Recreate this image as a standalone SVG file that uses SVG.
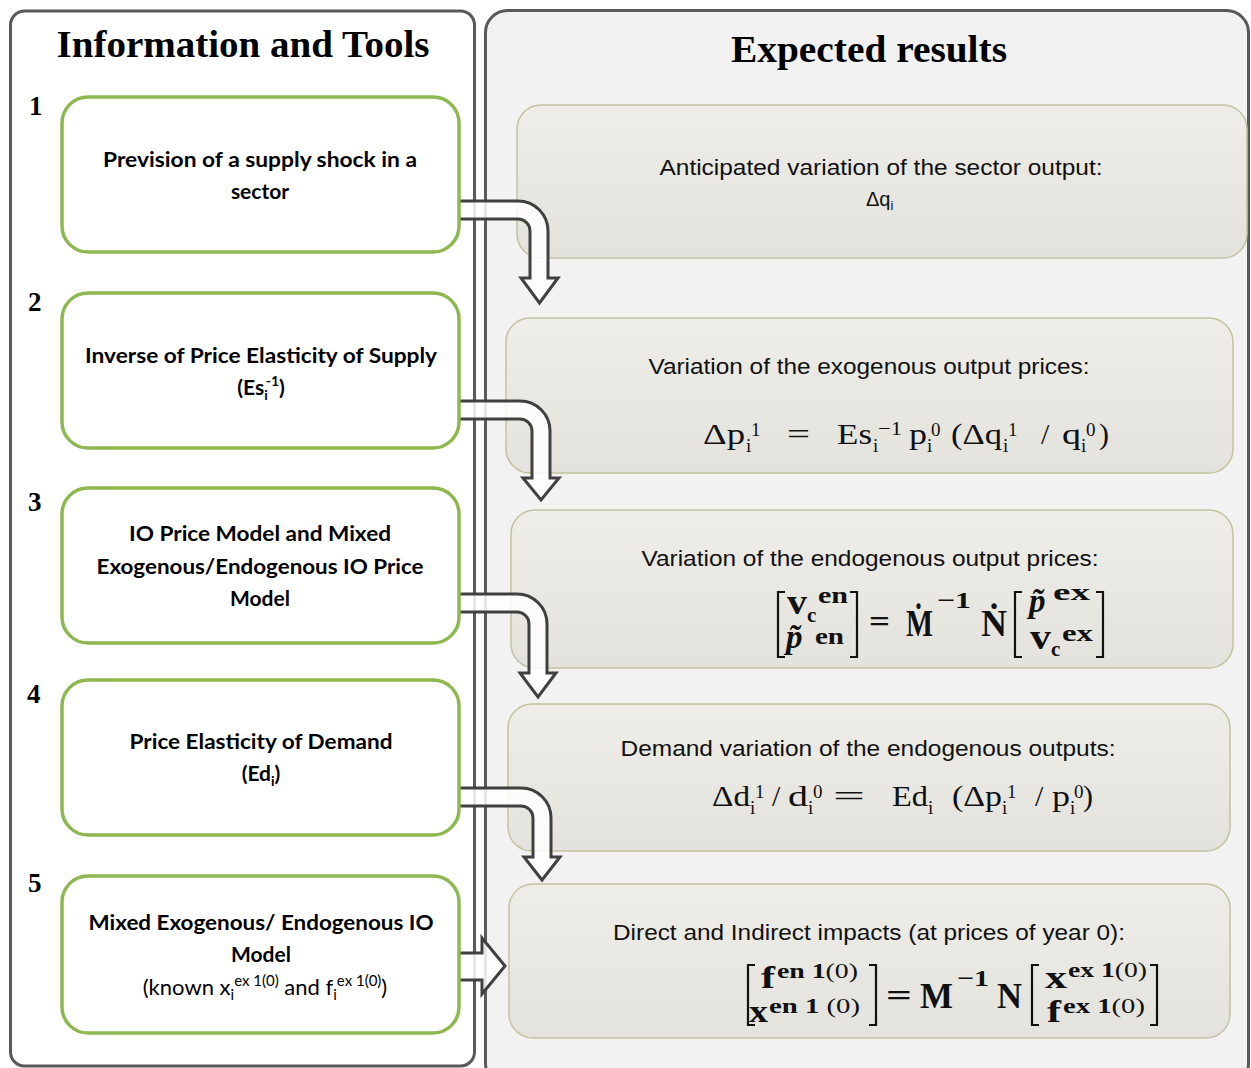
<svg xmlns="http://www.w3.org/2000/svg" width="1251" height="1068" viewBox="0 0 1251 1068">
<defs>
<linearGradient id="gr" x1="0" y1="0" x2="0" y2="1">
<stop offset="0" stop-color="#eeede8"/>
<stop offset="1" stop-color="#e3e2dc"/>
</linearGradient>
<style>
.panel{stroke:#595959;stroke-width:3}
.gbox{fill:#fff;stroke:#8db84f;stroke-width:3.5}
.rbox{fill:url(#gr);stroke:#c4c2a0;stroke-width:1.5}
.arrow{fill:#fff;fill-opacity:0.85;stroke:#404040;stroke-width:3}
.title{font-family:"Liberation Serif",serif;font-weight:bold;font-size:37px;fill:#000;text-anchor:middle}
.num{font-family:"Liberation Serif",serif;font-weight:bold;font-size:27px;fill:#000}
.lt{font-family:Lato,"Liberation Sans",sans-serif;font-weight:bold;font-size:21px;text-anchor:middle;fill:#000}
.lr{font-family:Lato,"Liberation Sans",sans-serif;font-size:22px;text-anchor:middle;fill:#000}
.rt{font-family:"Liberation Sans",Arial,sans-serif;font-size:22px;text-anchor:middle;fill:#111}
.fm{font-family:"Liberation Serif","DejaVu Serif",serif;font-size:30px;fill:#111}
.fs{font-family:"Liberation Serif","DejaVu Serif",serif;font-size:19px;fill:#111}
.fb{font-family:"Liberation Serif","DejaVu Serif",serif;font-weight:bold;fill:#111}
.br{fill:none;stroke:#111;stroke-width:2.2}
</style>
</defs>

<g id="panels">
<rect class="panel" x="10.5" y="11" width="464" height="1055" rx="14" fill="#ffffff"/>
<rect class="panel" x="485.5" y="10.5" width="763" height="1075" rx="22" fill="#f2f2f2"/>
<text class="title" x="243" y="57" textLength="373" lengthAdjust="spacingAndGlyphs">Information and Tools</text>
<text class="title" x="869" y="62" textLength="276" lengthAdjust="spacingAndGlyphs">Expected results</text>
<text class="num" x="29" y="115">1</text>
<text class="num" x="28" y="311">2</text>
<text class="num" x="28" y="511">3</text>
<text class="num" x="27" y="703">4</text>
<text class="num" x="28" y="892">5</text>
</g>

<g id="result-1">
<rect class="rbox" x="517" y="105" width="730" height="153" rx="24"/>
<text class="rt" x="881" y="175" textLength="443" lengthAdjust="spacingAndGlyphs">Anticipated variation of the sector output:</text>
<text class="rt" x="866" y="206" style="text-anchor:start;font-size:20px">Δq<tspan font-size="13" dy="4">i</tspan></text>
</g>

<g id="result-2">
<rect class="rbox" x="506" y="318" width="727" height="155" rx="24"/>
<text class="rt" x="869" y="374" textLength="441" lengthAdjust="spacingAndGlyphs">Variation of the exogenous output prices:</text>
<text class="fm" x="703" y="444" textLength="42" lengthAdjust="spacingAndGlyphs">Δp</text>
<text class="fs" x="746" y="452">i</text>
<text class="fs" x="751" y="436">1</text>
<text class="fm" x="787" y="444" textLength="23" lengthAdjust="spacingAndGlyphs">=</text>
<text class="fm" x="837" y="444" textLength="35" lengthAdjust="spacingAndGlyphs">Es</text>
<text class="fs" x="873" y="452">i</text>
<text class="fs" x="878" y="435" textLength="24" lengthAdjust="spacingAndGlyphs">−1</text>
<text class="fm" x="909" y="444" textLength="18" lengthAdjust="spacingAndGlyphs">p</text>
<text class="fs" x="927" y="452">i</text>
<text class="fs" x="931" y="436">0</text>
<text class="fm" x="951" y="444" textLength="51" lengthAdjust="spacingAndGlyphs">(Δq</text>
<text class="fs" x="1003" y="452">i</text>
<text class="fs" x="1008" y="436">1</text>
<text class="fm" x="1041" y="444">/</text>
<text class="fm" x="1062" y="444" textLength="19" lengthAdjust="spacingAndGlyphs">q</text>
<text class="fs" x="1081" y="452">i</text>
<text class="fs" x="1086" y="436">0</text>
<text class="fm" x="1099" y="444">)</text>
</g>

<g id="result-3">
<rect class="rbox" x="511" y="510" width="722" height="158" rx="24"/>
<text class="rt" x="870" y="566" textLength="457" lengthAdjust="spacingAndGlyphs">Variation of the endogenous output prices:</text>
<path class="br" d="M785,592 H778 V657 H785"/>
<text class="fb" x="787" y="614" font-size="35" textLength="20" lengthAdjust="spacingAndGlyphs">v</text>
<text class="fb" x="807" y="622" font-size="21">c</text>
<text class="fb" x="818" y="603" font-size="23" textLength="30" lengthAdjust="spacingAndGlyphs">en</text>
<text class="fb" x="786" y="648" font-size="33" font-style="italic">p̃</text>
<text class="fb" x="815" y="644" font-size="23" textLength="29" lengthAdjust="spacingAndGlyphs">en</text>
<path class="br" d="M850,592 H857 V657 H850"/>
<text class="fb" x="869" y="632" font-size="32" textLength="21" lengthAdjust="spacingAndGlyphs">=</text>
<text class="fb" x="906" y="636" font-size="38" textLength="27" lengthAdjust="spacingAndGlyphs">Ṁ</text>
<text class="fb" x="937" y="608" font-size="23" textLength="34" lengthAdjust="spacingAndGlyphs">−1</text>
<text class="fb" x="981" y="636" font-size="38" textLength="26" lengthAdjust="spacingAndGlyphs">Ṅ</text>
<path class="br" d="M1022,592 H1015 V657 H1022"/>
<text class="fb" x="1029" y="612" font-size="33" font-style="italic">p̃</text>
<text class="fb" x="1053" y="600" font-size="23" textLength="37" lengthAdjust="spacingAndGlyphs">ex</text>
<text class="fb" x="1030" y="649" font-size="35" textLength="21" lengthAdjust="spacingAndGlyphs">v</text>
<text class="fb" x="1051" y="656" font-size="21">c</text>
<text class="fb" x="1062" y="641" font-size="23" textLength="31" lengthAdjust="spacingAndGlyphs">ex</text>
<path class="br" d="M1096,592 H1103 V657 H1096"/>
</g>

<g id="result-4">
<rect class="rbox" x="508" y="704" width="722" height="147" rx="24"/>
<text class="rt" x="868" y="756" textLength="495" lengthAdjust="spacingAndGlyphs">Demand variation of the endogenous outputs:</text>
<text class="fm" x="712" y="806" textLength="38" lengthAdjust="spacingAndGlyphs">Δd</text>
<text class="fs" x="750" y="814">i</text>
<text class="fs" x="755" y="798">1</text>
<text class="fm" x="772" y="806">/</text>
<text class="fm" x="788" y="806" textLength="20" lengthAdjust="spacingAndGlyphs">d</text>
<text class="fs" x="808" y="814">i</text>
<text class="fs" x="813" y="798">0</text>
<text class="fm" x="833" y="806" textLength="32" lengthAdjust="spacingAndGlyphs">=</text>
<text class="fm" x="892" y="806" textLength="36" lengthAdjust="spacingAndGlyphs">Ed</text>
<text class="fs" x="928" y="814">i</text>
<text class="fm" x="952" y="806" textLength="50" lengthAdjust="spacingAndGlyphs">(Δp</text>
<text class="fs" x="1002" y="814">i</text>
<text class="fs" x="1007" y="798">1</text>
<text class="fm" x="1035" y="806">/</text>
<text class="fm" x="1052" y="806" textLength="18" lengthAdjust="spacingAndGlyphs">p</text>
<text class="fs" x="1070" y="814">i</text>
<text class="fs" x="1074" y="798">0</text>
<text class="fm" x="1083" y="806">)</text>
</g>

<g id="result-5">
<rect class="rbox" x="509" y="884" width="721" height="154" rx="24"/>
<text class="rt" x="869" y="940" textLength="512" lengthAdjust="spacingAndGlyphs">Direct and Indirect impacts (at prices of year 0):</text>
<path class="br" d="M755,965 H748 V1025 H755"/>
<text class="fb" x="761" y="988" font-size="32" textLength="14" lengthAdjust="spacingAndGlyphs">f</text>
<text class="fb" x="777" y="978" font-size="22" textLength="81" lengthAdjust="spacingAndGlyphs">en 1<tspan font-weight="normal">(0)</tspan></text>
<text class="fb" x="749" y="1022" font-size="32" textLength="19" lengthAdjust="spacingAndGlyphs">x</text>
<text class="fb" x="769" y="1013" font-size="22" textLength="91" lengthAdjust="spacingAndGlyphs">en 1 <tspan font-weight="normal">(0)</tspan></text>
<path class="br" d="M869,965 H876 V1025 H869"/>
<text class="fb" x="886" y="1006" font-size="32" textLength="26" lengthAdjust="spacingAndGlyphs">=</text>
<text class="fb" x="920" y="1008" font-size="36" textLength="33" lengthAdjust="spacingAndGlyphs">M</text>
<text class="fb" x="957" y="986" font-size="23" textLength="32" lengthAdjust="spacingAndGlyphs">−1</text>
<text class="fb" x="997" y="1008" font-size="36" textLength="25" lengthAdjust="spacingAndGlyphs">N</text>
<path class="br" d="M1039,965 H1032 V1025 H1039"/>
<text class="fb" x="1045" y="988" font-size="32" textLength="22" lengthAdjust="spacingAndGlyphs">x</text>
<text class="fb" x="1068" y="977" font-size="22" textLength="79" lengthAdjust="spacingAndGlyphs">ex 1<tspan font-weight="normal">(0)</tspan></text>
<text class="fb" x="1047" y="1022" font-size="32" textLength="14" lengthAdjust="spacingAndGlyphs">f</text>
<text class="fb" x="1063" y="1013" font-size="22" textLength="82" lengthAdjust="spacingAndGlyphs">ex 1<tspan font-weight="normal">(0)</tspan></text>
<path class="br" d="M1150,965 H1157 V1025 H1150"/>
</g>

<g id="connectors">
<path class="arrow" d="M455,201 H518 A30,30 0 0 1 548,231 V278 H558 L539.5,303 L521,278 H530 V231 A12,12 0 0 0 518,219 H455 Z"/>
<path class="arrow" d="M455,401 H520 A30,30 0 0 1 550,431 V478 H559 L541,500 L523,478 H532 V431 A12,12 0 0 0 520,419 H455 Z"/>
<path class="arrow" d="M455,594 H517 A30,30 0 0 1 547,624 V673 H556 L538,697 L520,673 H529 V624 A12,12 0 0 0 517,612 H455 Z"/>
<path class="arrow" d="M455,788 H521 A30,30 0 0 1 551,818 V857 H560 L542,880 L524,857 H533 V818 A12,12 0 0 0 521,806 H455 Z"/>
<path class="arrow" d="M455,953 H482 V938 L505,966 L482,994 V980 H455 Z"/>
</g>

<g id="tool-1">
<rect class="gbox" x="62" y="97" width="397" height="155" rx="26"/>
<text class="lt" x="260" y="167" textLength="314" lengthAdjust="spacingAndGlyphs">Prevision of a supply shock in a</text>
<text class="lt" x="260" y="199">sector</text>
</g>

<g id="tool-2">
<rect class="gbox" x="62" y="293" width="397" height="155" rx="26"/>
<text class="lt" x="261" y="363" textLength="352" lengthAdjust="spacingAndGlyphs">Inverse of Price Elasticity of Supply</text>
<text class="lt" x="261" y="395">(Es<tspan font-size="14" dy="5">i</tspan><tspan font-size="14" dx="-2" dy="-14">-1</tspan><tspan dy="9">)</tspan></text>
</g>

<g id="tool-3">
<rect class="gbox" x="62" y="488" width="397" height="155" rx="26"/>
<text class="lt" x="260" y="541" textLength="262" lengthAdjust="spacingAndGlyphs">IO Price Model and Mixed</text>
<text class="lt" x="260" y="574" textLength="327" lengthAdjust="spacingAndGlyphs">Exogenous/Endogenous IO Price</text>
<text class="lt" x="260" y="606">Model</text>
</g>

<g id="tool-4">
<rect class="gbox" x="62" y="680" width="397" height="155" rx="26"/>
<text class="lt" x="261" y="749" textLength="263" lengthAdjust="spacingAndGlyphs">Price Elasticity of Demand</text>
<text class="lt" x="261" y="781">(Ed<tspan font-size="14" dy="5">i</tspan><tspan dy="-5">)</tspan></text>
</g>

<g id="tool-5">
<rect class="gbox" x="62" y="876" width="397" height="157" rx="26"/>
<text class="lt" x="261" y="930" textLength="345" lengthAdjust="spacingAndGlyphs">Mixed Exogenous/ Endogenous IO</text>
<text class="lt" x="261" y="962">Model</text>
<text class="lr" x="265" y="995">(known x<tspan font-size="15" dy="5">i</tspan><tspan font-size="15" dy="-14">ex 1(0)</tspan><tspan dy="9"> and f</tspan><tspan font-size="15" dy="5">i</tspan><tspan font-size="15" dy="-14">ex 1(0)</tspan><tspan dy="9">)</tspan></text>
</g>
</svg>
